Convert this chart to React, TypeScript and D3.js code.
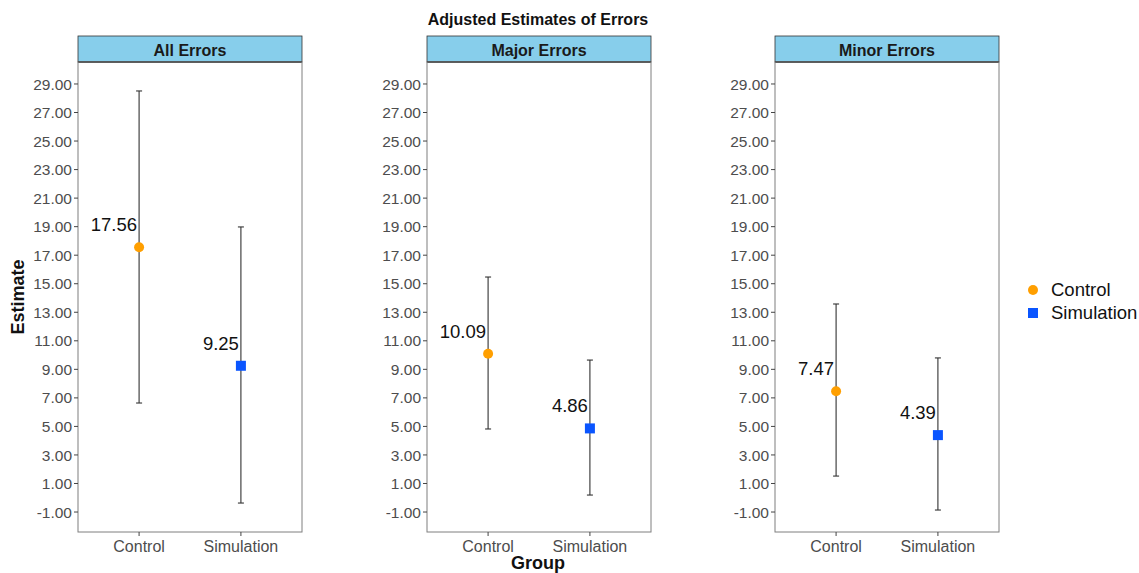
import React from "react";
import * as d3 from "d3";

const panels = ["All Errors", "Major Errors", "Minor Errors"];
const groups = ["Control", "Simulation"];
const estimates = [
  [17.56, 9.25],
  [10.09, 4.86],
  [7.47, 4.39],
];
const lowers = [
  [6.64, -0.37],
  [4.82, 0.19],
  [1.52, -0.86],
];
const uppers = [
  [28.51, 18.98],
  [15.47, 9.65],
  [13.58, 9.8],
];
const yTicks = d3.range(-1, 30, 2);
const colors = ["#FF9F00", "#0A55FF"];

const W = 1139;
const H = 573;
const panelLefts = [78, 427, 775];
const panelW = 224;
const stripTop = 36;
const stripBottom = 62;
const plotBottom = 532;
const font = "'Liberation Sans', Arial, sans-serif";

export default function App() {
  const y = d3.scaleLinear().domain([-2.4, 30.54]).range([plotBottom, stripBottom]);
  return (
    <svg width={W} height={H} style={{ position: "absolute", left: 0, top: 0 }} fontFamily={font}>
      <rect width={W} height={H} fill="#fff" />
      <text x={538} y={25} textAnchor="middle" fontWeight="bold" fontSize={16} fill="#111">
        Adjusted Estimates of Errors
      </text>
      {panels.map((p, i) => {
        const x0 = panelLefts[i];
        const x = d3.scalePoint().domain(groups).range([x0 + (0.6 / 2.2) * panelW, x0 + (1.6 / 2.2) * panelW]);
        return (
          <g key={p}>
            <rect x={x0} y={stripTop} width={panelW} height={stripBottom - stripTop} fill="#87CEEB" stroke="#333" strokeWidth={0.8} />
            <line x1={x0} x2={x0 + panelW} y1={stripBottom} y2={stripBottom} stroke="#1a1a1a" strokeWidth={1.4} />
            <text x={x0 + panelW / 2} y={55.5} textAnchor="middle" fontWeight="bold" fontSize={16} fill="#1a1a1a">
              {p}
            </text>
            <rect x={x0} y={stripBottom} width={panelW} height={plotBottom - stripBottom} fill="none" stroke="#7f7f7f" strokeWidth={1} />
            {yTicks.map((t) => (
              <g key={t}>
                <line x1={x0 - 4} x2={x0} y1={y(t)} y2={y(t)} stroke="#444" strokeWidth={1} />
                <text x={x0 - 6} y={y(t)} dy="0.36em" textAnchor="end" fontSize={15.5} fill="#4d4d4d">
                  {t.toFixed(2)}
                </text>
              </g>
            ))}
            {groups.map((g, j) => {
              const cx = x(g)!;
              const v = estimates[i][j];
              return (
                <g key={g}>
                  <line x1={cx} x2={cx} y1={plotBottom} y2={plotBottom + 4} stroke="#444" />
                  <text x={cx} y={552} textAnchor="middle" fontSize={16} fill="#4d4d4d">
                    {g}
                  </text>
                  <line x1={cx} x2={cx} y1={y(lowers[i][j])} y2={y(uppers[i][j])} stroke="#333" strokeWidth={1.1} />
                  <line x1={cx - 3} x2={cx + 3} y1={y(lowers[i][j])} y2={y(lowers[i][j])} stroke="#333" strokeWidth={1.1} />
                  <line x1={cx - 3} x2={cx + 3} y1={y(uppers[i][j])} y2={y(uppers[i][j])} stroke="#333" strokeWidth={1.1} />
                  {j === 0 ? (
                    <circle cx={cx} cy={y(v)} r={5} fill={colors[0]} />
                  ) : (
                    <rect x={cx - 5} y={y(v) - 5} width={10} height={10} fill={colors[1]} />
                  )}
                  <text x={cx - 2} y={y(v) - 16} textAnchor="end" fontSize={18.5} fill="#111">
                    {v.toFixed(2)}
                  </text>
                </g>
              );
            })}
          </g>
        );
      })}
      <text transform={`translate(24,297) rotate(-90)`} textAnchor="middle" fontWeight="bold" fontSize={18} fill="#111">
        Estimate
      </text>
      <text x={538} y={569} textAnchor="middle" fontWeight="bold" fontSize={18} fill="#111">
        Group
      </text>
      <circle cx={1033} cy={290} r={5} fill={colors[0]} />
      <text x={1051} y={290} dy="0.35em" fontSize={18.5} fill="#111">Control</text>
      <rect x={1028} y={308} width={10} height={10} fill={colors[1]} />
      <text x={1051} y={313} dy="0.35em" fontSize={18.5} fill="#111">Simulation</text>
    </svg>
  );
}
